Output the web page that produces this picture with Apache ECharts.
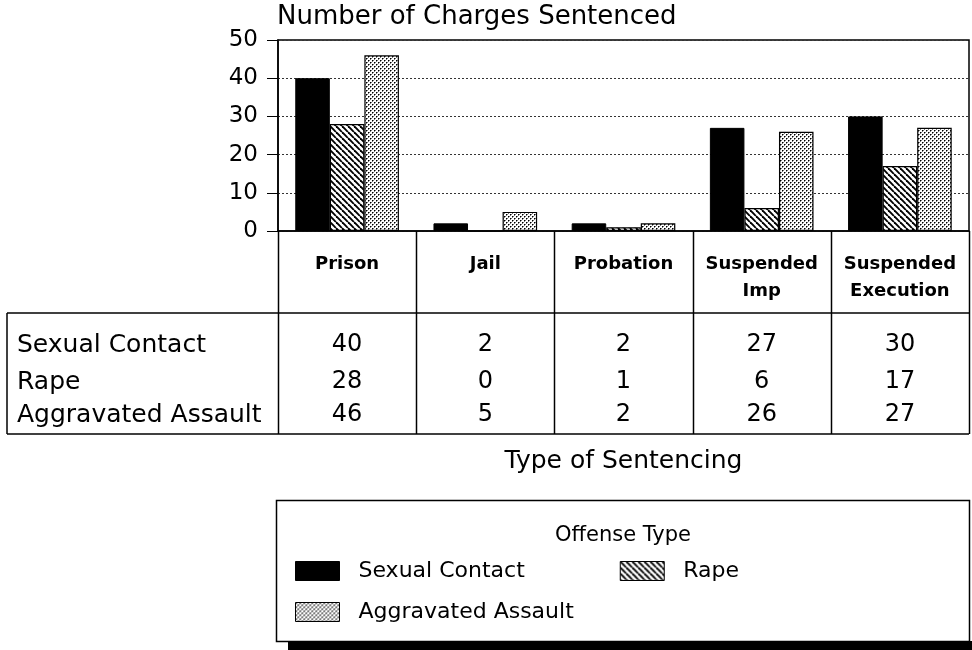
<!DOCTYPE html>
<html>
<head>
<meta charset="utf-8">
<script src="https://cdn.jsdelivr.net/npm/echarts@6/dist/echarts.min.js"></script>
<style>
  html, body { margin: 0; padding: 0; background: #fff; }
  #main { width: 972px; height: 650px; }
</style>
</head>
<body>
<div id="main"></div>
<script>
// sentencing categories (x axis) and the three offense series
var categories = ['Prison', 'Jail', 'Probation', 'Suspended\nImp', 'Suspended\nExecution'];
var sexualContact = [40, 2, 2, 27, 30];
var rape = [28, 0, 1, 6, 17];
var aggravatedAssault = [46, 5, 2, 26, 27];
var seriesNames = ['Sexual Contact', 'Rape', 'Aggravated Assault'];
var yTicks = { min: 0, max: 50, interval: 10 };

var FONT = 'DejaVu Sans';

// hatch fill for Rape bars (\\\ direction)
function makeHatch() {
  var c = document.createElement('canvas');
  c.width = 6; c.height = 6;
  var ctx = c.getContext('2d');
  ctx.fillStyle = '#fff';
  ctx.fillRect(0, 0, 6, 6);
  ctx.strokeStyle = '#000';
  ctx.lineWidth = 1.9;
  [-6, 0, 6].forEach(function (k) {
    ctx.beginPath();
    ctx.moveTo(k, 0);
    ctx.lineTo(k + 6, 6);
    ctx.stroke();
  });
  return c;
}

// fine dot fill for Aggravated Assault bars
function makeDots() {
  var c = document.createElement('canvas');
  c.width = 4; c.height = 4;
  var ctx = c.getContext('2d');
  ctx.fillStyle = '#fff';
  ctx.fillRect(0, 0, 4, 4);
  ctx.fillStyle = '#000';
  ctx.fillRect(0, 0, 1, 1);
  ctx.fillRect(2, 2, 1, 1);
  ctx.fillStyle = '#777';
  ctx.fillRect(1, 0, 1, 1);
  ctx.fillRect(0, 1, 1, 1);
  ctx.fillRect(3, 2, 1, 1);
  ctx.fillRect(2, 3, 1, 1);
  return c;
}

var hatch = { image: makeHatch(), repeat: 'repeat' };
var dots = { image: makeDots(), repeat: 'repeat' };

var myChart = echarts.init(document.getElementById('main'), null, { renderer: 'canvas' });

// rows of the data table under the axis
var tableRows = [sexualContact, rape, aggravatedAssault];
var rowOffsets = [114, 151, 184];

function tableAxis(idx) {
  var row = tableRows[idx];
  return {
    type: 'category',
    gridIndex: 0,
    position: 'bottom',
    offset: rowOffsets[idx],
    data: categories,
    axisLine: { show: false },
    axisTick: { show: false },
    splitLine: { show: false },
    axisLabel: {
      interval: 0,
      margin: 0,
      verticalAlign: 'middle',
      fontFamily: FONT,
      fontSize: 24,
      color: '#000',
      formatter: function (v, i) { return String(row[i]); }
    },
    name: seriesNames[idx],
    nameLocation: 'start',
    nameGap: 261,
    nameTextStyle: {
      align: 'left',
      verticalAlign: 'middle',
      fontFamily: FONT,
      fontSize: 25,
      color: '#000'
    }
  };
}

var option = {
  backgroundColor: '#fff',
  animation: false,
  title: [{
    text: 'Number of Charges Sentenced',
    left: 277,
    top: 4,
    padding: 0,
    textStyle: { fontFamily: FONT, fontSize: 26, fontWeight: 'normal', color: '#000' }
  }, {
    text: 'Offense Type',
    left: 623,
    top: 525,
    padding: 0,
    textAlign: 'center',
    textStyle: { fontFamily: FONT, fontSize: 21, fontWeight: 'normal', color: '#000' }
  }],
  legend: [{
    data: ['Sexual Contact', 'Rape'],
    left: 295,
    top: 560,
    padding: 0,
    itemWidth: 44,
    itemHeight: 19,
    itemGap: 95,
    icon: 'rect',
    itemStyle: { borderColor: '#000', borderWidth: 1 },
    textStyle: { fontFamily: FONT, fontSize: 22, color: '#000', padding: [0, 0, 0, 14] }
  }, {
    data: ['Aggravated Assault'],
    left: 295,
    top: 601,
    padding: 0,
    itemWidth: 44,
    itemHeight: 19,
    icon: 'rect',
    itemStyle: { borderColor: '#000', borderWidth: 1 },
    textStyle: { fontFamily: FONT, fontSize: 22, color: '#000', padding: [0, 0, 0, 14] }
  }],
  grid: {
    left: 278,
    right: 3,
    top: 40,
    bottom: 419,
    show: true,
    borderColor: '#000',
    borderWidth: 1.5,
    backgroundColor: 'transparent'
  },
  xAxis: [{
    type: 'category',
    data: categories,
    axisLine: { lineStyle: { color: '#000', width: 1.5 } },
    axisTick: { alignWithLabel: true, length: 9, lineStyle: { color: '#000', width: 1.5 } },
    axisLabel: {
      interval: 0,
      margin: 20,
      lineHeight: 27,
      fontFamily: FONT,
      fontSize: 18,
      fontWeight: 'bold',
      color: '#000'
    },
    name: 'Type of Sentencing',
    nameLocation: 'middle',
    nameGap: 230,
    nameTextStyle: { fontFamily: FONT, fontSize: 25, color: '#000', verticalAlign: 'middle' }
  }, tableAxis(0), tableAxis(1), tableAxis(2)],
  yAxis: {
    type: 'value',
    min: yTicks.min,
    max: yTicks.max,
    interval: yTicks.interval,
    axisLine: { show: true, lineStyle: { color: '#000', width: 1.5 } },
    axisTick: { show: true, length: 11, lineStyle: { color: '#000', width: 1 } },
    axisLabel: { margin: 20, fontFamily: FONT, fontSize: 23, color: '#000' },
    splitLine: { show: true, lineStyle: { color: '#333', width: 1, type: [2, 2] } }
  },
  series: [{
    name: 'Sexual Contact',
    type: 'bar',
    data: sexualContact,
    barGap: 0,
    barCategoryGap: '25%',
    itemStyle: { color: '#000', borderColor: '#000', borderWidth: 1 }
  }, {
    name: 'Rape',
    type: 'bar',
    data: rape,
    barGap: 0,
    barCategoryGap: '25%',
    itemStyle: { color: hatch, borderColor: '#000', borderWidth: 1.2 }
  }, {
    name: 'Aggravated Assault',
    type: 'bar',
    data: aggravatedAssault,
    barGap: 0,
    barCategoryGap: '25%',
    itemStyle: { color: dots, borderColor: '#000', borderWidth: 1.2 }
  }]
};

myChart.setOption(option);

// table rules: column boundaries come from the category axis
var c0 = myChart.convertToPixel({ xAxisIndex: 0 }, 0);
var c1 = myChart.convertToPixel({ xAxisIndex: 0 }, 1);
var band = c1 - c0;
var axisY = myChart.convertToPixel({ yAxisIndex: 0 }, 0);
var tableTop = axisY;
var headerBottom = 313;
var tableBottom = 434;
var tableLeft = 7;
var gridLeft = c0 - band / 2;
var gridRight = gridLeft + band * categories.length;

var lineStyle = { stroke: '#000', lineWidth: 1.5 };
var graphics = [];
for (var i = 0; i <= categories.length; i++) {
  var x = Math.round(gridLeft + band * i) + 0.5;
  graphics.push({ type: 'line', shape: { x1: x, y1: tableTop, x2: x, y2: tableBottom }, style: lineStyle, silent: true });
}
graphics.push({ type: 'line', shape: { x1: tableLeft, y1: headerBottom, x2: gridRight, y2: headerBottom }, style: lineStyle, silent: true });
graphics.push({ type: 'line', shape: { x1: tableLeft, y1: tableBottom, x2: gridRight, y2: tableBottom }, style: lineStyle, silent: true });
graphics.push({ type: 'line', shape: { x1: tableLeft, y1: headerBottom, x2: tableLeft, y2: tableBottom }, style: lineStyle, silent: true });

// legend frame with drop shadow
graphics.push({ type: 'rect', z: -10, shape: { x: 288, y: 641, width: 684, height: 9 }, style: { fill: '#000' }, silent: true });
graphics.push({ type: 'rect', z: -9, shape: { x: 276.5, y: 500.5, width: 693, height: 141 }, style: { fill: '#fff', stroke: '#000', lineWidth: 1.5 }, silent: true });

myChart.setOption({ graphic: graphics });
</script>
</body>
</html>
